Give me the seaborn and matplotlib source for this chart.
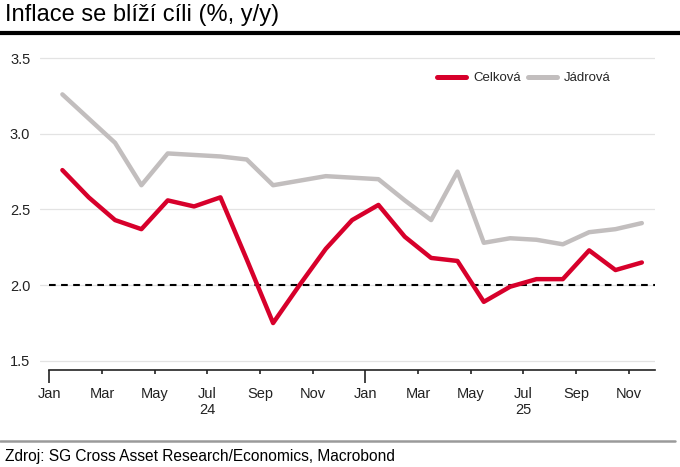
import numpy as np
import pandas as pd
import matplotlib
matplotlib.use("Agg")
import matplotlib.pyplot as plt
import seaborn as sns

# ---- data ----
months = ["2024-01", "2024-02", "2024-03", "2024-04", "2024-05", "2024-06",
          "2024-07", "2024-08", "2024-09", "2024-10", "2024-11", "2024-12",
          "2025-01", "2025-02", "2025-03", "2025-04", "2025-05", "2025-06",
          "2025-07", "2025-08", "2025-09", "2025-10", "2025-11"]
celkova = [2.76, 2.58, 2.43, 2.37, 2.56, 2.52, 2.58, 2.17, 1.75, 2.00, 2.24, 2.43,
           2.53, 2.32, 2.18, 2.16, 1.89, 1.99, 2.04, 2.04, 2.23, 2.10, 2.15]
jadrova = [3.26, 3.10, 2.94, 2.66, 2.87, 2.86, 2.85, 2.83, 2.66, 2.69, 2.72, 2.71,
           2.70, 2.56, 2.43, 2.75, 2.28, 2.31, 2.30, 2.27, 2.35, 2.37, 2.41]
target = 2.0
series_names = ["Celková", "Jádrová"]
tick_labels = ["Jan", "Mar", "May", "Jul\n24", "Sep", "Nov",
               "Jan", "Mar", "May", "Jul\n25", "Sep", "Nov"]
y_ticks = [1.5, 2.0, 2.5, 3.0, 3.5]
title = "Inflace se blíží cíli (%, y/y)"
source = "Zdroj: SG Cross Asset Research/Economics, Macrobond"

# ---- build frame ----
n = len(months)
pos = np.arange(n) + 0.5  # mid-month positions
df = pd.DataFrame({
    "x": np.concatenate([pos, pos]),
    "value": celkova + jadrova,
    "series": [series_names[0]] * n + [series_names[1]] * n,
})

sns.set_theme(style="white")
plt.rcParams["font.family"] = ["Liberation Sans", "DejaVu Sans"]

fig = plt.figure(figsize=(6.8, 4.67), dpi=100)
ax = fig.add_axes([40 / 680, 1 - 370 / 467, 615 / 680, (370 - 55) / 467])

palette = {series_names[0]: "#D7002B", series_names[1]: "#C2BEBE"}
sns.lineplot(data=df, x="x", y="value", hue="series", palette=palette,
             linewidth=3.2, ax=ax, legend=True)

ax.hlines(target, 0, 23, colors="black", linestyles=(0, (3.2, 2.6)), linewidth=1.5, zorder=1)

ax.set_xlim(-0.35, 23)
ax.set_ylim(1.44, 3.52)
ax.set_yticks(y_ticks)
ax.set_yticklabels([f"{v:.1f}" for v in y_ticks], fontsize=10.5, color="#222222")
ax.yaxis.grid(True, color="#E3E3E3", linewidth=0.9)
ax.xaxis.grid(False)

xt = np.arange(0, 24, 2)
ax.set_xticks(xt)
ax.set_xticklabels(tick_labels, fontsize=10.5, color="#222222", linespacing=1.25)
ax.tick_params(axis="x", direction="out", length=3, width=1.2, color="#222222", pad=9, bottom=True)
ax.tick_params(axis="y", length=0, pad=7)
for t, val in zip(ax.xaxis.get_major_ticks(), xt):
    if val % 12 == 0:
        t.tick1line.set_markersize(9)

for s in ["top", "right", "left"]:
    ax.spines[s].set_visible(False)
ax.spines["bottom"].set_color("#222222")
ax.spines["bottom"].set_linewidth(1.2)
ax.spines["bottom"].set_bounds(0, 23)

ax.set_xlabel("")
ax.set_ylabel("")

leg = ax.legend(loc="center", bbox_to_anchor=(0.787, 0.926), ncol=2, frameon=False,
                fontsize=9.5, handlelength=2.2, columnspacing=0.5, handletextpad=0.55)
for h in leg.get_lines():
    h.set_linewidth(3.6)

# title + rule
fig.text(5 / 680, 1 - 15 / 467, title, fontsize=17, ha="left", va="center", color="black")
fig.add_artist(plt.Line2D([0, 1], [1 - 32.5 / 467, 1 - 32.5 / 467], color="black", linewidth=3,
                          transform=fig.transFigure))
# source + rule
fig.add_artist(plt.Line2D([0, 675 / 680], [1 - 441 / 467, 1 - 441 / 467], color="#9A9A9A",
                          linewidth=1.8, transform=fig.transFigure))
fig.text(5 / 680, 1 - 456 / 467, source, fontsize=11.2, ha="left", va="center", color="black")

fig.savefig("out.png", dpi=100)
